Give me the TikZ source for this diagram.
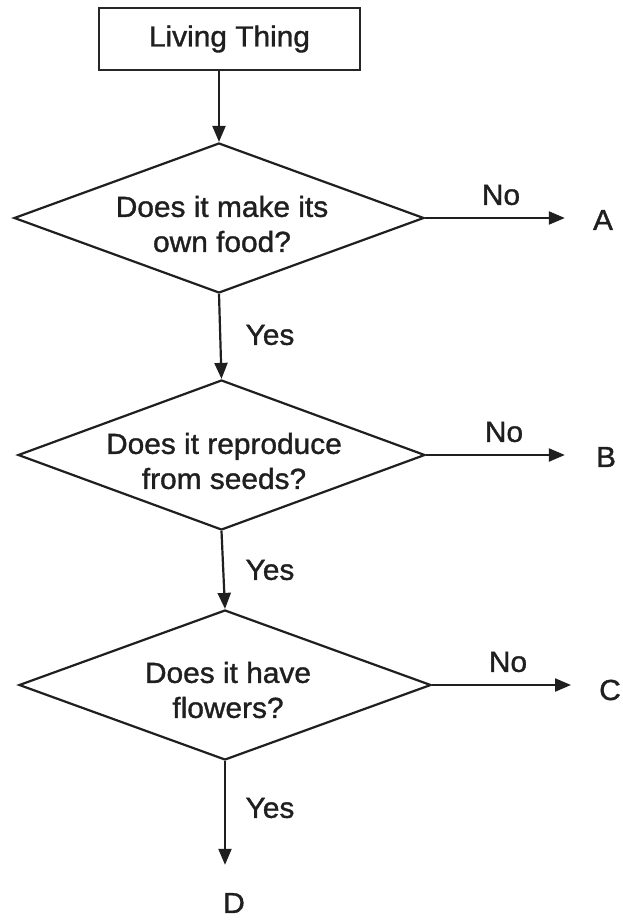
\documentclass[tikz,border=0pt]{standalone}
\usepackage{fontspec}
\setmainfont{Liberation Sans}[FakeStretch=1.03,FakeBold=1.2]
\usetikzlibrary{shapes.geometric,arrows.meta}
\begin{document}
\begin{tikzpicture}[x=1pt,y=-1pt,
  font=\fontsize{29}{35}\selectfont,
  text=black!88,
  startbox/.style={draw=black!85, line width=2pt, minimum width=261pt, minimum height=62pt, inner sep=0pt},
  decision/.style={diamond, draw=black!88, line width=2.2pt, minimum width=410pt, minimum height=150pt, inner sep=0pt},
  qtext/.style={align=center, inner sep=0pt},
  lbl/.style={inner sep=0pt},
  arr/.style={draw=black!88, line width=2.2pt, -{Triangle[length=16pt,width=13pt]}}]
\useasboundingbox (0,0) rectangle (623,920);
\fill[white] (0,0) rectangle (623,920);
% nodes
\node[startbox] (start) at (229.5,39) {Living Thing};
\node[decision] (d1) at (219,218) {};
\node[qtext] (q1) at (222,224) {Does it make its\\own food?};
\node[decision, minimum width=407pt] (d2) at (221.5,455) {};
\node[qtext] (q2) at (224,461) {Does it reproduce\\from seeds?};
\node[decision, minimum width=412pt] (d3) at (225,685) {};
\node[qtext] (q3) at (228,690) {Does it have\\flowers?};
\node[lbl] (A) at (603,220) {A};
\node[lbl] (B) at (606,457) {B};
\node[lbl] (C) at (610,690) {C};
\node[lbl] (D) at (234,903) {D};
% labels
\node[lbl] (no1) at (501,195) {No};
\node[lbl] (no2) at (504,432) {No};
\node[lbl] (no3) at (508,662) {No};
\node[lbl] (yes1) at (270,335) {Yes};
\node[lbl] (yes2) at (270,570) {Yes};
\node[lbl] (yes3) at (270,808) {Yes};
% connectors
\draw[arr] (d1.north |- start.south) -- (d1.north);
\draw[arr] (d1.south) -- (d2.north);
\draw[arr] (d2.south) -- (d3.north);
\draw[arr, shorten >=28pt] (d3.south) -- (d3.south |- D.north);
\draw[arr, shorten >=28pt] (d1.east) -- (d1.east -| A.west);
\draw[arr, shorten >=31pt] (d2.east) -- (d2.east -| B.west);
\draw[arr, shorten >=28pt] (d3.east) -- (d3.east -| C.west);
\end{tikzpicture}
\end{document}
